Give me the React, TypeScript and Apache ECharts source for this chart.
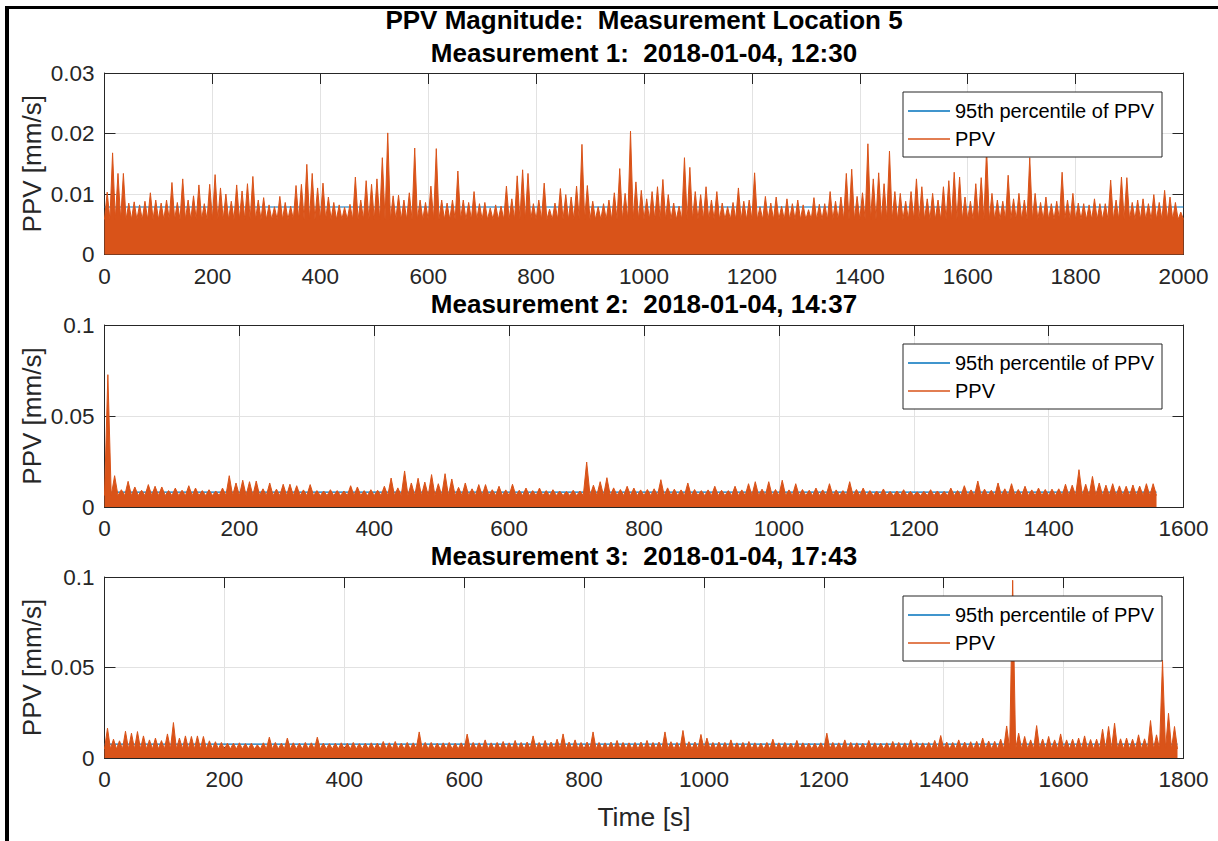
import React, { useEffect, useRef } from "react";
import * as echarts from "echarts";

// ---- data (PPV in 1e-3 mm/s, max per 10 s bin) ----
const binSeconds = 10;

const m1Bins = [
  10.3, 16.8, 13.4, 13.4, 8.5, 8.7, 8.2, 8.8, 10.2, 9.0, 8.5, 9.0, 11.9, 8.6, 12.5, 9.0, 9.7, 11.5, 8.4, 11.6,
  13.2, 11.0, 10.0, 8.8, 11.5, 10.5, 11.7, 12.9, 9.0, 9.4, 8.2, 7.9, 9.6, 8.6, 8.0, 11.4, 11.6, 14.9, 13.4, 11.0,
  11.8, 9.5, 8.6, 8.2, 7.8, 8.3, 12.8, 9.0, 12.2, 11.6, 12.5, 16.0, 20.1, 9.7, 9.8, 9.0, 10.2, 17.6, 9.0, 8.6,
  11.3, 17.5, 9.0, 8.5, 9.0, 13.8, 9.0, 8.6, 10.4, 8.4, 8.6, 7.7, 8.2, 8.0, 11.3, 9.2, 13.0, 14.0, 13.4, 8.4,
  9.0, 11.8, 7.5, 8.5, 10.9, 9.9, 9.5, 11.3, 18.2, 11.4, 8.8, 7.9, 8.4, 9.0, 10.2, 14.2, 10.1, 20.4, 12.0, 10.6,
  9.2, 10.4, 11.2, 12.4, 9.9, 8.5, 8.0, 16.0, 14.4, 10.4, 9.9, 11.2, 9.0, 10.4, 8.5, 7.9, 8.6, 11.0, 8.8, 9.0,
  13.5, 7.9, 9.6, 8.5, 9.5, 8.0, 9.2, 8.4, 9.0, 8.2, 7.4, 9.4, 8.3, 8.4, 10.4, 8.8, 9.5, 13.4, 14.1, 9.6,
  10.2, 18.3, 12.5, 13.5, 11.7, 17.1, 10.4, 10.1, 8.8, 10.4, 12.5, 11.2, 9.2, 10.1, 9.0, 11.2, 12.2, 13.6, 12.8, 9.5,
  8.8, 11.7, 12.7, 17.5, 10.1, 9.0, 8.8, 13.1, 9.2, 10.1, 9.0, 16.0, 10.1, 8.6, 9.5, 8.4, 8.8, 13.6, 9.0, 10.1,
  8.5, 8.4, 8.2, 9.2, 8.4, 8.4, 12.3, 9.0, 12.8, 12.7, 8.6, 9.0, 9.2, 8.4, 9.9, 8.6, 10.6, 9.5, 8.6, 7.0,
];

const m2Bins = [
  72.7, 17.2, 9.5, 14.1, 11.0, 9.2, 12.3, 11.4, 11.0, 9.0, 10.4, 9.2, 11.7, 10.4, 9.0, 9.5, 8.8, 10.4, 17.2, 13.2,
  14.7, 13.9, 14.3, 10.0, 13.2, 9.8, 12.5, 12.5, 11.7, 9.4, 12.3, 9.0, 8.8, 9.5, 9.0, 8.8, 11.7, 11.0, 9.0, 9.5,
  9.2, 11.4, 15.9, 10.5, 19.8, 13.2, 15.8, 13.7, 17.8, 12.8, 18.3, 15.4, 10.8, 13.2, 10.0, 12.3, 12.3, 9.5, 11.4, 9.4,
  12.5, 9.2, 10.4, 9.0, 10.4, 9.0, 9.5, 8.8, 8.6, 9.2, 8.8, 24.7, 12.0, 13.9, 16.1, 10.5, 9.6, 11.4, 10.4, 9.4,
  9.6, 10.0, 15.0, 10.5, 9.8, 9.4, 13.2, 9.6, 9.0, 9.4, 11.4, 9.2, 9.0, 11.4, 9.4, 12.8, 13.9, 9.8, 13.9, 9.6,
  14.7, 9.4, 12.8, 9.6, 9.2, 10.4, 9.4, 12.8, 9.4, 9.0, 13.9, 9.6, 10.4, 9.0, 8.8, 9.9, 8.6, 8.8, 9.5, 8.6,
  8.4, 8.6, 9.5, 8.8, 8.6, 10.4, 9.0, 11.7, 9.4, 14.3, 9.8, 9.2, 13.2, 10.0, 12.8, 9.6, 11.4, 9.4, 10.4, 9.6,
  9.8, 10.0, 12.5, 12.0, 20.5, 12.5, 16.8, 13.2, 12.0, 12.8, 11.6, 11.4, 12.1, 11.5, 12.8, 12.8,
];

const m3Bins = [
  16.5, 10.4, 9.5, 14.8, 13.7, 14.6, 12.2, 10.0, 11.0, 9.6, 13.3, 19.6, 11.0, 12.2, 11.9, 12.2, 11.9, 9.5, 9.0, 8.6,
  8.2, 8.2, 8.4, 8.0, 8.2, 7.3, 8.4, 11.5, 8.6, 8.2, 11.0, 8.4, 8.2, 8.6, 8.4, 11.5, 8.2, 8.0, 8.2, 8.4,
  8.2, 8.6, 8.0, 8.2, 8.4, 8.2, 9.1, 8.4, 9.1, 8.2, 8.6, 8.4, 14.4, 8.6, 8.6, 8.2, 8.4, 8.6, 8.2, 8.4,
  13.2, 8.6, 8.4, 10.0, 8.4, 8.6, 9.1, 8.4, 9.7, 8.6, 8.8, 12.2, 8.6, 9.7, 8.8, 10.4, 13.3, 8.8, 10.0, 8.6,
  8.8, 14.4, 8.6, 8.4, 8.8, 9.7, 8.6, 8.4, 8.6, 8.8, 9.7, 8.6, 8.8, 14.4, 9.0, 8.6, 15.2, 9.0, 8.8, 13.0,
  11.0, 8.6, 8.8, 8.6, 10.0, 8.4, 8.6, 9.1, 8.4, 8.2, 8.6, 10.4, 8.4, 8.6, 8.2, 9.7, 8.4, 8.2, 8.2, 8.4,
  13.7, 8.6, 8.4, 10.0, 8.6, 8.4, 8.2, 9.7, 8.4, 8.2, 8.4, 9.1, 8.6, 8.4, 10.0, 8.6, 8.4, 8.6, 9.7, 12.4,
  8.8, 8.6, 10.0, 8.8, 9.0, 9.2, 11.0, 9.4, 9.2, 10.4, 17.7, 98.2, 13.7, 11.9, 10.0, 17.9, 10.5, 11.9, 10.0, 13.3,
  10.0, 10.4, 11.0, 12.2, 10.2, 10.4, 15.9, 17.4, 19.2, 10.6, 11.0, 10.4, 12.8, 10.6, 20.7, 12.8, 53.9, 24.7, 17.4,
];

// dense-signal body level (top of the solid orange band), 1e-3 mm/s
const m1Body = 5.8;
const m2Body = 6.3;
const m3Body = 5.0;

// 95th percentile of PPV, mm/s
const m1P95 = 0.00785;
const m2P95 = 0.0082;
const m3P95 = 0.0077;

const subTitles = [
  "Measurement 1:  2018-01-04, 12:30",
  "Measurement 2:  2018-01-04, 14:37",
  "Measurement 3:  2018-01-04, 17:43",
];
const xMaxes = [2000, 1600, 1800];
const yMaxes = [0.03, 0.1, 0.1];
const yIntervals = [0.01, 0.05, 0.05];

const FONT = "'Liberation Sans', Arial, Helvetica, sans-serif";
const AX = "#262626";
const BLUE = "#0072BD";
const ORANGE = "#D95319";

function zigzag(bins: number[], body: number) {
  const pts: number[][] = [[0, body / 1000]];
  bins.forEach((v, i) => {
    pts.push([i * binSeconds + binSeconds / 2, v / 1000]);
    pts.push([(i + 1) * binSeconds, body / 1000]);
  });
  return pts;
}

export default function App() {
  const ref = useRef<HTMLDivElement>(null);
  useEffect(() => {
    if (!ref.current) return;
    const chart = echarts.init(ref.current, undefined, { renderer: "svg" });
    const panels = [
      { bins: m1Bins, body: m1Body, p95: m1P95 },
      { bins: m2Bins, body: m2Body, p95: m2P95 },
      { bins: m3Bins, body: m3Body, p95: m3P95 },
    ];
    const gridTops = [73, 325, 577];
    const gridHeights = [181.5, 182, 181];
    const gridLeft = 104.5;
    const gridWidth = 1079;

    const grids = gridTops.map((t, i) => ({
      left: gridLeft,
      top: t,
      width: gridWidth,
      height: gridHeights[i],
      outerBoundsMode: "none",
      containLabel: false,
    }));

    const xAxes: any[] = [];
    const yAxes: any[] = [];
    panels.forEach((_, i) => {
      const common = {
        type: "value",
        gridIndex: i,
        min: 0,
        max: xMaxes[i],
        interval: 200,
      };
      xAxes.push({
        ...common,
        position: "bottom",
        axisLine: { show: true, onZero: false, lineStyle: { color: AX, width: 1 } },
        axisTick: { show: true, inside: true, length: 11, lineStyle: { color: AX } },
        axisLabel: {
          color: AX,
          fontSize: 22.5,
          fontFamily: FONT,
          margin: 10,
          formatter: (v: number) => String(v),
        },
        splitLine: { show: true, lineStyle: { color: "#e2e2e2", width: 1 } },
      });
      xAxes.push({
        ...common,
        position: "top",
        axisLine: { show: true, onZero: false, lineStyle: { color: AX, width: 1 } },
        axisTick: { show: true, inside: true, length: 11, lineStyle: { color: AX } },
        axisLabel: { show: false },
        splitLine: { show: false },
      });
      const ycommon = {
        type: "value",
        gridIndex: i,
        min: 0,
        max: yMaxes[i],
        interval: yIntervals[i],
      };
      yAxes.push({
        ...ycommon,
        position: "left",
        axisLine: { show: true, onZero: false, lineStyle: { color: AX, width: 1 } },
        axisTick: { show: true, inside: true, length: 11, lineStyle: { color: AX } },
        axisLabel: {
          color: AX,
          fontSize: 22.5,
          fontFamily: FONT,
          margin: 10,
          formatter: (v: number) => String(Math.round(v * 1000) / 1000),
        },
        splitLine: { show: true, lineStyle: { color: "#e2e2e2", width: 1 } },
      });
      yAxes.push({
        ...ycommon,
        position: "right",
        axisLine: { show: true, onZero: false, lineStyle: { color: AX, width: 1 } },
        axisTick: { show: true, inside: true, length: 11, lineStyle: { color: AX } },
        axisLabel: { show: false },
        splitLine: { show: false },
      });
    });

    const series: any[] = [];
    panels.forEach((p, i) => {
      const end = p.bins.length * binSeconds;
      series.push({
        name: "95th percentile of PPV",
        type: "line",
        xAxisIndex: 2 * i,
        yAxisIndex: 2 * i,
        data: [
          [0, p.p95],
          [end, p.p95],
        ],
        symbol: "none",
        lineStyle: { color: BLUE, width: 1.2 },
        itemStyle: { color: BLUE },
        z: 2,
      });
      series.push({
        name: "PPV",
        type: "line",
        xAxisIndex: 2 * i,
        yAxisIndex: 2 * i,
        data: zigzag(p.bins, p.body),
        symbol: "none",
        lineStyle: { color: ORANGE, width: 1 },
        itemStyle: { color: ORANGE },
        areaStyle: { color: ORANGE, opacity: 1, origin: "start" },
        z: 3,
      });
    });

    const legendTops = [92, 344, 596];
    const legends = legendTops.map((t) => ({
      data: ["95th percentile of PPV", "PPV"],
      orient: "vertical",
      left: 903,
      top: t,
      icon: "rect",
      itemWidth: 42,
      itemHeight: 1.5,
      itemGap: 8,
      padding: [9, 8, 8, 5],
      borderColor: AX,
      borderWidth: 1,
      backgroundColor: "#ffffff",
      selectedMode: false,
      textStyle: { color: "#000", fontSize: 20, fontFamily: FONT },
    }));

    const graphic: any[] = [
      { type: "rect", shape: { x: 5, y: 6, width: 1213, height: 3 }, style: { fill: "#000" }, z: 100 },
      { type: "rect", shape: { x: 5, y: 6, width: 4, height: 835 }, style: { fill: "#000" }, z: 100 },
      {
        type: "text",
        x: 644,
        y: 20,
        style: {
          text: "PPV Magnitude:  Measurement Location 5",
          font: `bold 26px ${FONT}`,
          fill: "#000",
          textAlign: "center",
          textVerticalAlign: "middle",
        },
      },
      {
        type: "text",
        x: 644,
        y: 817,
        style: {
          text: "Time [s]",
          font: `26.5px ${FONT}`,
          fill: AX,
          textAlign: "center",
          textVerticalAlign: "middle",
        },
      },
    ];
    const subY = [53, 304, 556];
    subTitles.forEach((s, i) => {
      graphic.push({
        type: "text",
        x: 644,
        y: subY[i],
        style: { text: s, font: `bold 26px ${FONT}`, fill: "#000", textAlign: "center", textVerticalAlign: "middle" },
      });
      graphic.push({
        type: "text",
        x: 32,
        y: gridTops[i] + gridHeights[i] / 2,
        rotation: Math.PI / 2,
        style: { text: "PPV [mm/s]", font: `26px ${FONT}`, fill: AX, textAlign: "center", textVerticalAlign: "middle" },
      });
    });

    chart.setOption({
      animation: false,
      backgroundColor: "#ffffff",
      grid: grids,
      xAxis: xAxes,
      yAxis: yAxes,
      series,
      legend: legends,
      graphic,
    });
    return () => chart.dispose();
  }, []);
  return (
    <div
      ref={ref}
      style={{ position: "fixed", left: 0, top: 0, width: 1218, height: 841, background: "#fff" }}
    />
  );
}
